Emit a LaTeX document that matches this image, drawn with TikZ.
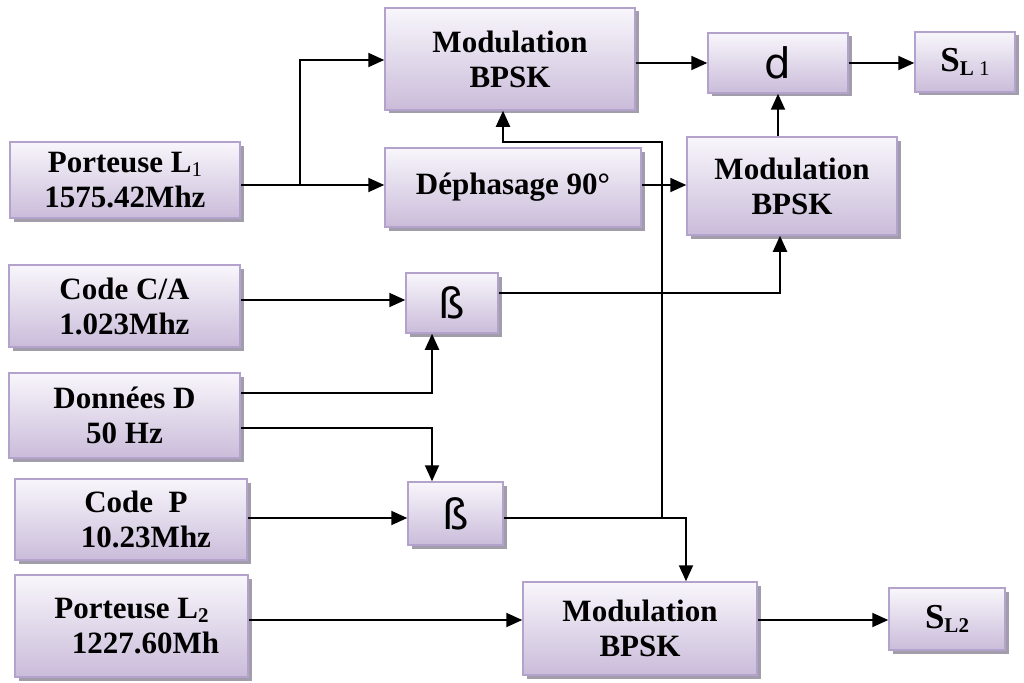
\documentclass[tikz,border=0pt]{standalone}
\usepackage{fontspec}
\setmainfont{Liberation Serif}
\newfontfamily\symfont{DejaVu Sans}
\usetikzlibrary{arrows.meta,shadows}
\definecolor{boxtop}{HTML}{F8F6FB}
\definecolor{boxbot}{HTML}{CABCDA}
\definecolor{boxline}{HTML}{B3A2CC}
\definecolor{shadowcol}{HTML}{A19DAA}
\tikzset{
  blk/.style={draw=boxline, line width=1.5pt, top color=boxtop, bottom color=boxbot,
    drop shadow={shadow xshift=3.5pt, shadow yshift=-3.5pt, fill=shadowcol, opacity=1},
    align=center, font=\fontsize{31}{35}\selectfont\bfseries, inner sep=0pt, text=black},
  sym/.style={font=\fontsize{42}{42}\selectfont\symfont},
  big/.style={font=\fontsize{35}{35}\selectfont\bfseries},
  arr/.style={line width=2pt, -{Triangle[length=16pt,width=14pt]}},
  ln/.style={line width=2pt},
}
\newcommand{\sbs}[1]{\raisebox{-4pt}{\fontsize{21}{21}\selectfont #1}}
\begin{document}
\begin{tikzpicture}[x=1pt,y=-1pt]
\path[use as bounding box] (0,0) rectangle (1024,682);
% boxes
\node[blk, minimum width=230pt, minimum height=76pt] (pL1) at (125,180) {Porteuse L\sbs{\mdseries 1}\\1575.42Mhz};
\node[blk, minimum width=250pt, minimum height=102pt] (modA) at (510,59) {Modulation\\BPSK};
\node[blk, sym, minimum width=140pt, minimum height=60pt] (dbox) at (778,63) {d};
\node[blk, big, minimum width=100pt, minimum height=60pt] (sl1) at (965,62) {S\sbs{L \mdseries 1}};
\node[blk, minimum width=210pt, minimum height=98pt] (modB) at (792,186) {Modulation\\BPSK};
\node[blk, minimum width=256pt, minimum height=79pt] (deph) at (513,187.5) {Déphasage 90°};
\node[blk, sym, minimum width=92pt, minimum height=60pt] (b1) at (452,303) {ß};
\node[blk, minimum width=231pt, minimum height=82pt] (ca) at (124.5,306) {Code C/A\\1.023Mhz};
\node[blk, minimum width=231pt, minimum height=85pt] (dd) at (124.5,415.5) {Données D\\50 Hz};
\node[blk, minimum width=232pt, minimum height=81pt] (cp) at (131,519.5) {\hspace*{10pt}Code~~P\\\hspace*{30pt}10.23Mhz};
\node[blk, sym, minimum width=95pt, minimum height=63pt] (b2) at (455.5,513.5) {ß};
\node[blk, minimum width=233pt, minimum height=102pt] (pL2) at (131.5,626) {Porteuse L\sbs{2}\\\hspace*{28pt}1227.60Mh};
\node[blk, minimum width=234pt, minimum height=93pt] (modC) at (640,628.5) {Modulation\\BPSK};
\node[blk, big, minimum width=116pt, minimum height=62pt] (sl2) at (947,619) {S\sbs{L2}};
% junctions
\coordinate (j1) at (300,185);
\coordinate (j2) at (662,518);
% connectors
\draw[ln] (pL1.east |- j1) -- (j1);
\draw[arr] (j1) -- (deph.west |- j1);
\draw[arr] (j1) -- (300,60) -- (modA.west |- 0,60);
\draw[arr] (modA.east |- dbox.west) -- (dbox.west);
\draw[arr] (dbox.east) -- (sl1.west |- dbox.east);
\draw[arr] (dbox.south |- modB.north) -- (dbox.south);
\draw[arr] (deph.east |- 0,185) -- (modB.west |- 0,185);
\draw[arr] (b1.east |- 0,293) -- (780,293) -- (780,0 |- modB.south);
\draw[arr] (ca.east |- 0,300) -- (b1.west |- 0,300);
\draw[arr] (dd.east |- 0,393) -- (432,393) -- (432,0 |- b1.south);
\draw[arr] (dd.east |- 0,428) -- (432,428) -- (432,0 |- b2.north);
\draw[arr] (cp.east |- 0,518) -- (b2.west |- 0,518);
\draw[arr] (b2.east |- 0,518) -- (686,518) -- (686,0 |- modC.north);
\draw[arr] (j2) -- (662,142) -- (503,142) -- (503,0 |- modA.south);
\draw[arr] (pL2.east |- 0,620) -- (modC.west |- 0,620);
\draw[arr] (modC.east |- 0,620) -- (sl2.west |- 0,620);
\end{tikzpicture}
\end{document}
